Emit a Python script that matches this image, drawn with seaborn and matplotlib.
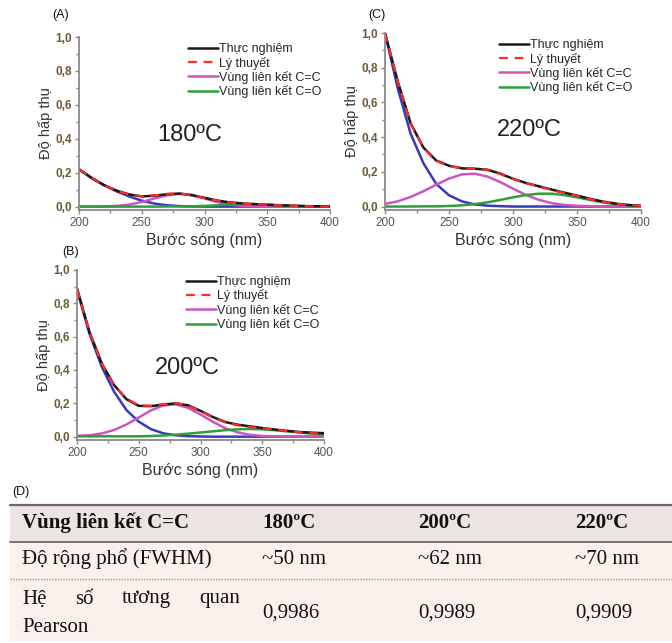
import numpy as np
import pandas as pd
import matplotlib
matplotlib.use("Agg")
import matplotlib.pyplot as plt
import seaborn as sns
from matplotlib.ticker import MultipleLocator, FuncFormatter

sns.set_theme(style="white")
plt.rcParams['font.family'] = ['Liberation Sans', 'DejaVu Sans']

# ---------------- data ----------------
wavelength = [200, 210, 220, 230, 240, 250, 260, 270, 280, 290, 300,
              310, 320, 330, 340, 350, 360, 370, 380, 390, 400]

# (A) 180 C
a_exp   = [0.220, 0.170, 0.127, 0.094, 0.072, 0.060, 0.064, 0.073, 0.077, 0.068, 0.052,
           0.036, 0.025, 0.019, 0.015, 0.011, 0.008, 0.005, 0.003, 0.002, 0.001]
a_fit   = [0.220, 0.170, 0.126, 0.093, 0.071, 0.061, 0.066, 0.075, 0.078, 0.068, 0.051,
           0.035, 0.024, 0.018, 0.014, 0.011, 0.008, 0.005, 0.003, 0.001, 0.000]
a_blue  = [0.220, 0.168, 0.125, 0.090, 0.060, 0.035, 0.018, 0.008, 0.003, 0.001, 0.000,
           0.000, 0.000, 0.000, 0.000, 0.000, 0.000, 0.000, 0.000, 0.000, 0.000]
a_cc    = [0.000, 0.000, 0.001, 0.004, 0.012, 0.027, 0.048, 0.067, 0.075, 0.067, 0.048,
           0.027, 0.012, 0.004, 0.001, 0.000, 0.000, 0.000, 0.000, 0.000, 0.000]
a_co    = [0.000, 0.000, 0.000, 0.000, 0.000, 0.000, 0.000, 0.001, 0.001, 0.002, 0.004,
           0.008, 0.012, 0.014, 0.013, 0.011, 0.008, 0.005, 0.003, 0.001, 0.000]

# (B) 200 C
b_exp   = [0.890, 0.630, 0.440, 0.310, 0.225, 0.185, 0.183, 0.193, 0.200, 0.188, 0.155,
           0.118, 0.088, 0.072, 0.062, 0.052, 0.043, 0.035, 0.028, 0.024, 0.021]
b_fit   = [0.885, 0.628, 0.438, 0.308, 0.228, 0.188, 0.185, 0.195, 0.202, 0.186, 0.152,
           0.115, 0.086, 0.068, 0.058, 0.050, 0.042, 0.034, 0.027, 0.021, 0.016]
b_blue  = [0.880, 0.620, 0.420, 0.270, 0.160, 0.090, 0.045, 0.020, 0.008, 0.003, 0.001,
           0.000, 0.000, 0.000, 0.000, 0.000, 0.000, 0.000, 0.000, 0.000, 0.000]
b_cc    = [0.005, 0.008, 0.019, 0.040, 0.073, 0.115, 0.158, 0.188, 0.194, 0.173, 0.133,
           0.089, 0.051, 0.026, 0.011, 0.004, 0.001, 0.000, 0.000, 0.000, 0.000]
b_co    = [0.002, 0.002, 0.002, 0.002, 0.002, 0.002, 0.004, 0.007, 0.012, 0.018, 0.025,
           0.032, 0.039, 0.044, 0.046, 0.044, 0.039, 0.032, 0.025, 0.018, 0.012]

# (C) 220 C
c_exp   = [1.000, 0.720, 0.480, 0.340, 0.265, 0.235, 0.220, 0.218, 0.212, 0.190, 0.160,
           0.136, 0.117, 0.098, 0.080, 0.063, 0.045, 0.029, 0.017, 0.009, 0.004]
c_fit   = [1.000, 0.718, 0.478, 0.338, 0.262, 0.233, 0.221, 0.217, 0.210, 0.187, 0.158,
           0.135, 0.115, 0.096, 0.078, 0.061, 0.043, 0.028, 0.016, 0.009, 0.004]
c_blue  = [1.000, 0.680, 0.420, 0.250, 0.130, 0.065, 0.030, 0.012, 0.005, 0.002, 0.000,
           0.000, 0.000, 0.000, 0.000, 0.000, 0.000, 0.000, 0.000, 0.000, 0.000]
c_cc    = [0.015, 0.030, 0.055, 0.088, 0.126, 0.161, 0.185, 0.189, 0.173, 0.141, 0.103,
           0.067, 0.039, 0.020, 0.009, 0.004, 0.002, 0.000, 0.000, 0.000, 0.000]
c_co    = [0.000, 0.000, 0.000, 0.001, 0.001, 0.003, 0.007, 0.014, 0.024, 0.038, 0.053,
           0.066, 0.074, 0.074, 0.066, 0.053, 0.038, 0.024, 0.014, 0.007, 0.003]

series_names = ["Thực nghiệm", "Lý thuyết", "Vùng liên kết C=C", "Vùng liên kết C=O"]
temps = ["180ºC", "200ºC", "220ºC"]

table_header = ["Vùng liên kết C=C", "180ºC", "200ºC", "220ºC"]
fwhm_row = ["Độ rộng phổ (FWHM)", "~50 nm", "~62 nm", "~70 nm"]
pearson_words = ["Hệ", "số", "tương", "quan"]
pearson_vals = ["0,9986", "0,9989", "0,9909"]

# ---------------- figure ----------------
W, H = 672, 643
fig = plt.figure(figsize=(W / 100, H / 100), dpi=100)
fig.patch.set_facecolor("white")

COL_EXP = "#1a1a1a"
COL_FIT = "#ff2a2a"
COL_CC = "#cc55c0"
COL_CO = "#2e9e3c"
COL_BLUE = "#3a3ab8"
SPINE = "#8a8a8a"


def px_axes(l, r, top, bottom):
    return fig.add_axes([l / W, 1 - bottom / H, (r - l) / W, (bottom - top) / H])


def draw_panel(ax, exp, fit, blue, cc, co, temp, tx, ty, leg_x):
    df = pd.DataFrame({"x": wavelength, "exp": exp, "fit": fit,
                       "blue": blue, "cc": cc, "co": co})
    sns.lineplot(data=df, x="x", y="blue", ax=ax, color=COL_BLUE, lw=1.8)
    sns.lineplot(data=df, x="x", y="cc", ax=ax, color=COL_CC, lw=1.8,
                 label=series_names[2])
    sns.lineplot(data=df, x="x", y="co", ax=ax, color=COL_CO, lw=1.8,
                 label=series_names[3])
    sns.lineplot(data=df, x="x", y="exp", ax=ax, color=COL_EXP, lw=1.8,
                 label=series_names[0])
    sns.lineplot(data=df, x="x", y="fit", ax=ax, color=COL_FIT, lw=1.6,
                 linestyle=(0, (4, 3)), label=series_names[1])
    ax.set_xlim(200, 400)
    ax.set_ylim(-0.02, 1.0)
    ax.xaxis.set_major_locator(MultipleLocator(50))
    ax.xaxis.set_minor_locator(MultipleLocator(25))
    ax.yaxis.set_major_locator(MultipleLocator(0.2))
    ax.yaxis.set_minor_locator(MultipleLocator(0.1))
    ax.yaxis.set_major_formatter(FuncFormatter(lambda v, p: f"{v:.1f}".replace(".", ",")))
    ax.tick_params(axis="x", which="major", direction="out", length=3, width=1,
                   color=SPINE, labelsize=8.5, labelcolor="#555555", pad=2, bottom=True)
    ax.tick_params(axis="x", which="minor", direction="out", length=2, width=1,
                   color=SPINE, bottom=True)
    ax.tick_params(axis="y", which="major", direction="out", length=3, width=1,
                   color=SPINE, labelsize=8.5, labelcolor="#6e5a36", pad=2, left=True)
    ax.tick_params(axis="y", which="minor", direction="out", length=2, width=1,
                   color=SPINE, left=True)
    for lab in ax.get_yticklabels():
        lab.set_fontweight("bold")
    for s in ["top", "right"]:
        ax.spines[s].set_visible(False)
    for s in ["left", "bottom"]:
        ax.spines[s].set_color(SPINE)
        ax.spines[s].set_linewidth(1.3)
    ax.set_facecolor("white")
    ax.set_xlabel("Bước sóng (nm)", fontsize=11.5, color="#333333", labelpad=3)
    ax.set_ylabel("Độ hấp thụ", fontsize=10.5, color="#333333", labelpad=2)
    ax.text(tx, ty, temp, fontsize=17, color="#222222", ha="center", va="center")
    handles, labels = ax.get_legend_handles_labels()
    order = [labels.index(n) for n in series_names]
    ax.legend([handles[i] for i in order], [labels[i] for i in order],
              loc="upper left", bbox_to_anchor=(leg_x, 1.0), frameon=False,
              fontsize=9, handlelength=2.4, handletextpad=0.1,
              labelspacing=0.1, borderaxespad=0.1, borderpad=0.4)


axA = px_axes(79, 330, 37, 210)
draw_panel(axA, a_exp, a_fit, a_blue, a_cc, a_co, temps[0], 288, 0.42, 0.41)
axC = px_axes(385, 641, 33, 210)
draw_panel(axC, c_exp, c_fit, c_blue, c_cc, c_co, temps[2], 313, 0.44, 0.42)
axB = px_axes(77, 324, 270, 440)
draw_panel(axB, b_exp, b_fit, b_blue, b_cc, b_co, temps[1], 289, 0.41, 0.415)

fig.text(52 / W, 1 - 15 / H, "(A)", fontsize=9, ha="left", va="center", color="#111111")
fig.text(368 / W, 1 - 15 / H, "(C)", fontsize=9, ha="left", va="center", color="#111111")
fig.text(62 / W, 1 - 252 / H, "(B)", fontsize=9, ha="left", va="center", color="#111111")
fig.text(12 / W, 1 - 492 / H, "(D)", fontsize=9, ha="left", va="center", color="#111111")

# ---------------- table (D) ----------------
tax = fig.add_axes([0, 0, 1, 1])
tax.set_xlim(0, W)
tax.set_ylim(H, 0)
tax.axis("off")
tax.set_zorder(-1)

HEAD_BG = "#ece4e0"
BODY_BG = "#fbf1ec"
tax.add_patch(plt.Rectangle((10, 505), W - 10, 36, color=HEAD_BG, lw=0))
tax.add_patch(plt.Rectangle((10, 541), W - 10, 100, color=BODY_BG, lw=0))
tax.plot([10, W], [505, 505], color="#6a6a6a", lw=1.6)
tax.plot([10, W], [541.5, 541.5], color="#6a6a6a", lw=1.3)
tax.plot([10, W], [578.5, 578.5], color="#9a9a9a", lw=1.0, linestyle=(0, (1, 1)))

serif = ['Liberation Serif', 'DejaVu Serif']
FS = 15
col_x = [22, 262, 418, 575]
for i, t in enumerate(table_header):
    tax.text(col_x[i], 523, t, fontsize=FS, fontweight="bold", family=serif,
             ha="left", va="center", color="#111111")
for i, t in enumerate(fwhm_row):
    tax.text(col_x[i], 559, t, fontsize=FS, family=serif,
             ha="left", va="center", color="#111111")

# justified first line of the "Pearson" cell: spread words from x=22 to x=240
renderer = fig.canvas.get_renderer()
word_artists = [tax.text(0, 599, t, fontsize=FS, family=serif, ha="left",
                         va="center", color="#111111") for t in pearson_words]
widths = [a.get_window_extent(renderer=renderer).width for a in word_artists]
left, right = 22, 240
gap = (right - left - sum(widths)) / (len(widths) - 1)
xpos = left
for a, w in zip(word_artists, widths):
    a.set_x(xpos)
    xpos += w + gap

tax.text(22, 627, "Pearson", fontsize=FS, family=serif,
         ha="left", va="center", color="#111111")
for i, t in enumerate(pearson_vals):
    tax.text(col_x[i + 1], 613, t, fontsize=FS, family=serif,
             ha="left", va="center", color="#111111")

fig.savefig("out.png", dpi=100)
